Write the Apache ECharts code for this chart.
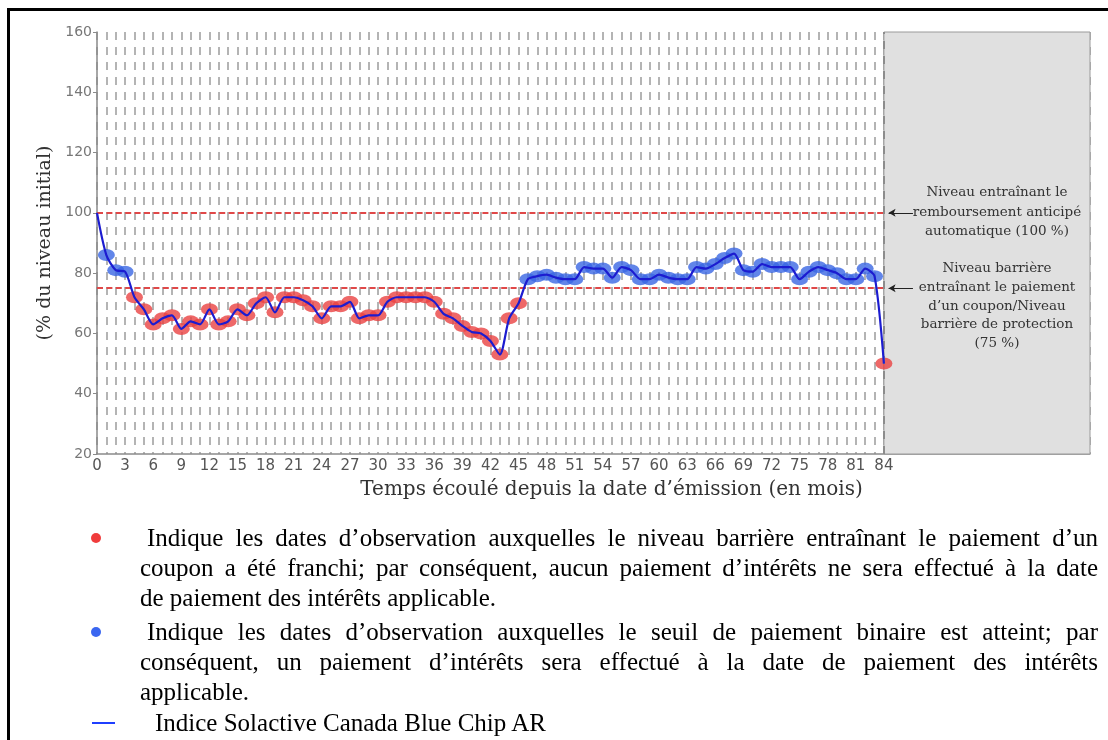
<!DOCTYPE html>
<html>
<head>
<meta charset="utf-8" />
<title>Indice Solactive Canada Blue Chip AR</title>
<script src="https://cdn.jsdelivr.net/npm/echarts@6/dist/echarts.min.js"></script>
<style>
  body { margin: 0; background: #fff; }
  #wrap { position: relative; width: 1108px; height: 740px; overflow: hidden; }
  #main { position: absolute; left: 0; top: 0; width: 1108px; height: 740px; }
  .frame { position: absolute; left: 7px; top: 8px; right: -5px; bottom: -5px; border-top: 3px solid #000; border-left: 3px solid #000; pointer-events: none; }
  .note { position: absolute; font-family: "Liberation Serif", serif; font-size: 25px; line-height: 30px; color: #000; }
  .note span { display: block; text-align: justify; text-align-last: justify; white-space: nowrap; }
  .note span.last { text-align-last: left; }
  .dot { position: absolute; width: 10px; height: 10px; border-radius: 50%; }
</style>
</head>
<body>
<div id="wrap">
  <div id="main"></div>
  <div class="frame"></div>

  <div class="dot" style="left:91px; top:533px; background:#f03c3c;"></div>
  <div class="note" style="left:140px; top:523px; width:958px;">
    <span style="padding-left:7px">Indique les dates d’observation auxquelles le niveau barrière entraînant le paiement d’un</span>
    <span>coupon a été franchi; par conséquent, aucun paiement d’intérêts ne sera effectué à la date</span>
    <span class="last">de paiement des intérêts applicable.</span>
  </div>

  <div class="dot" style="left:91px; top:627px; background:#3a66f0;"></div>
  <div class="note" style="left:140px; top:617px; width:958px;">
    <span style="padding-left:7px">Indique les dates d’observation auxquelles le seuil de paiement binaire est atteint; par</span>
    <span>conséquent, un paiement d’intérêts sera effectué à la date de paiement des intérêts</span>
    <span class="last">applicable.</span>
  </div>

  <div style="position:absolute; left:92px; top:722px; width:23px; height:2px; background:#1f3fff;"></div>
  <div class="note" style="left:155px; top:708px;">
    <span class="last">Indice Solactive Canada Blue Chip AR</span>
  </div>
</div>

<script type="text/javascript">
// niveau de l'indice (% du niveau initial), un point par mois, mois 0 a 84
var levels = [
  100, 86, 81, 80.5, 72, 68, 63, 65, 66, 61.5,
  64, 63, 68, 63, 64, 68, 66, 70, 72, 67,
  72, 72, 71, 69, 65, 69, 69, 70.5, 65, 66,
  66, 70.5, 72, 72, 72, 72, 70.5, 66.5, 65, 62.5,
  60.5, 60, 57.5, 53, 65, 70, 78, 79, 79.5, 78.5,
  78, 78, 82, 81.5, 81.5, 78.5, 82, 81, 78, 78,
  79.5, 78.5, 78, 78, 82, 81.5, 83, 85, 86.5, 81,
  80.5, 83, 82, 82, 82, 78, 80.5, 82, 81, 80,
  78, 78, 81.5, 79, 50
];
var yTicks = [20, 160, 20];     // min, max, pas
var autocallLevel = 100;
var barrierLevel = 75;
var lastMonth = 84;
var axisEnd = 106;              // zone grisee apres la derniere observation

var linePts = levels.map(function (v, i) { return [i, v]; });
var redPts = linePts.filter(function (p) { return p[0] > 0 && p[1] < barrierLevel; });
var bluePts = linePts.filter(function (p) { return p[0] > 0 && p[1] >= barrierLevel; });

var gridDash = { color: '#b4b4b4', width: 2, type: [8, 7] };
var redDash = { color: '#e04848', width: 2, type: [6, 3.4] };

var myChart = echarts.init(document.getElementById('main'));
var option = {
  animation: false,
  grid: { left: 97, right: 18, top: 32, bottom: 286 },
  xAxis: {
    type: 'value',
    min: 0,
    max: axisEnd,
    interval: 3,
    name: 'Temps écoulé depuis la date d’émission (en mois)',
    nameLocation: 'middle',
    nameGap: 26,
    nameTextStyle: { fontFamily: 'DejaVu Serif', fontSize: 20, color: '#333', padding: [0, 0, 0, 36] },
    axisLine: { lineStyle: { color: '#8a8a8a', width: 1.5 } },
    axisTick: { show: false },
    axisLabel: {
      color: '#555', fontSize: 15, fontFamily: 'DejaVu Sans', margin: 5,
      formatter: function (v) { return v <= lastMonth ? String(v) : ''; }
    },
    splitLine: { show: true, lineStyle: gridDash },
    minorTick: { show: false, splitNumber: 3 },
    minorSplitLine: { show: true, lineStyle: gridDash }
  },
  yAxis: {
    type: 'value',
    min: yTicks[0],
    max: yTicks[1],
    interval: yTicks[2],
    name: '(% du niveau initial)',
    nameLocation: 'middle',
    nameGap: 37,
    nameTextStyle: { fontFamily: 'DejaVu Serif', fontSize: 19, color: '#333' },
    axisLine: { show: true, lineStyle: { color: '#8a8a8a', width: 1.5 } },
    axisTick: { show: true, length: 4, lineStyle: { color: '#8a8a8a' } },
    axisLabel: { color: '#777', fontSize: 14, fontFamily: 'DejaVu Sans', margin: 5 },
    splitLine: { show: false }
  },
  series: [
    {
      name: 'Indice Solactive Canada Blue Chip AR',
      type: 'line',
      data: linePts,
      showSymbol: false,
      smooth: 0.25,
      z: 5,
      lineStyle: { color: '#1c1cd0', width: 2.2 },
      markArea: {
        silent: true,
        itemStyle: { color: '#e0e0e0', borderColor: '#9a9a9a', borderWidth: 1 },
        data: [[{ xAxis: lastMonth }, { xAxis: axisEnd }]]
      },
      markLine: {
        silent: true,
        symbol: 'none',
        label: { show: false },
        data: [
          [{ coord: [0, autocallLevel], lineStyle: redDash }, { coord: [lastMonth, autocallLevel] }],
          [{ coord: [0, barrierLevel], lineStyle: redDash }, { coord: [lastMonth, barrierLevel] }],
          { xAxis: lastMonth, lineStyle: { color: '#8c8c8c', width: 2, type: [8, 7] } }
        ]
      }
    },
    {
      name: 'barriere franchie',
      type: 'scatter',
      data: redPts,
      symbol: 'circle',
      symbolSize: [17, 12],
      z: 3,
      itemStyle: { color: '#ea4242' }
    },
    {
      name: 'seuil atteint',
      type: 'scatter',
      data: bluePts,
      symbol: 'circle',
      symbolSize: [17, 12],
      z: 3,
      itemStyle: { color: '#3a66e4' }
    },
    {
      name: 'fleches',
      type: 'line',
      data: [],
      markLine: {
        silent: true,
        symbol: ['none', 'arrow'],
        symbolSize: [6, 7],
        label: { show: false },
        lineStyle: { color: '#222', width: 1, type: 'solid' },
        data: [
          [{ coord: [87.1, autocallLevel] }, { coord: [84.5, autocallLevel] }],
          [{ coord: [87.1, barrierLevel] }, { coord: [84.5, barrierLevel] }]
        ]
      }
    }
  ],
  graphic: [
    {
      type: 'text', x: 997, y: 212, z: 10,
      style: {
        text: 'Niveau entraînant le\nremboursement anticipé\nautomatique (100 %)',
        font: '13.5px "DejaVu Serif"', fill: '#333',
        align: 'center', verticalAlign: 'middle', lineHeight: 19.5
      }
    },
    {
      type: 'text', x: 997, y: 306, z: 10,
      style: {
        text: 'Niveau barrière\nentraînant le paiement\nd’un coupon/Niveau\nbarrière de protection\n(75 %)',
        font: '13.5px "DejaVu Serif"', fill: '#333',
        align: 'center', verticalAlign: 'middle', lineHeight: 18.8
      }
    }
  ]
};
myChart.setOption(option);
</script>
</body>
</html>
